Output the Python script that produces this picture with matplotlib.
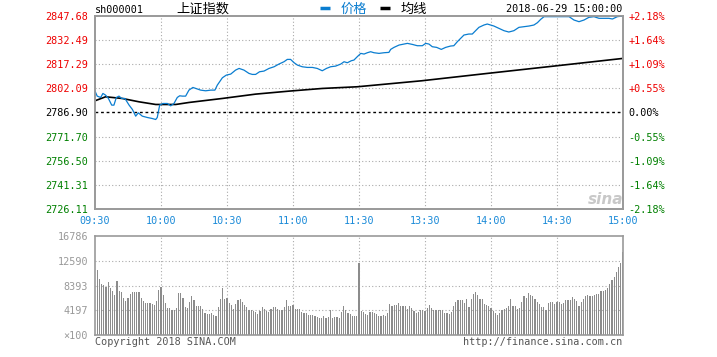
import numpy as np
import matplotlib
matplotlib.use('Agg')
import matplotlib.pyplot as plt
from matplotlib.lines import Line2D

W, H = 717, 357
MONO = 'DejaVu Sans Mono'
CJK = ['Noto Sans CJK SC', 'DejaVu Sans']

# ---- data ----
prev_close = 2786.90
price_ticks = [2726.11, 2741.31, 2756.50, 2771.70, 2786.90,
               2802.09, 2817.29, 2832.49, 2847.68]
pct_labels = ['-2.18%', '-1.64%', '-1.09%', '-0.55%', '0.00%',
              '+0.55%', '+1.09%', '+1.64%', '+2.18%']
time_labels = ['09:30', '10:00', '10:30', '11:00', '11:30',
               '13:30', '14:00', '14:30', '15:00']
vol_ticks = [0, 4197, 8393, 12590, 16786]
vol_labels = ['×100', '4197', '8393', '12590', '16786']

# price line: minute index (0..240) and value
price_min = [0, 1, 2.6, 3.6, 4.8, 6.1, 7.6, 8.6, 9.7, 10.9, 12.1, 13.6, 15.5, 17, 18.5,
             19.7, 21.5, 23.8, 26, 27.6, 28.3, 29.4, 30.9, 32.9, 34.4, 35.9, 37.4, 38.5,
             39.7, 41.2, 42.7, 44.5, 45.8, 48, 50.3, 52.6, 54.5, 55.6, 57.9, 59.7, 61.7,
             63.9, 65.5, 67.7, 70, 71.5, 73, 74.8, 76.8, 79.1, 81.4, 83.6, 85.9, 87.4,
             88.9, 90.5, 92, 94.2, 96.5, 98.8, 101, 103.3, 105.2, 107.1, 109.4, 111.7,
             113.2, 114.7, 116.5, 117.7, 119.2,
             120.8, 122.3, 123.8, 125.3, 126.8, 129.1, 131.4, 133.6, 134.4, 135.9, 138.2,
             140.5, 142, 144.2, 146.5, 148.8, 150.3, 151.8, 153.3, 155.3, 157.4, 159.4,
             161.6, 163.1, 164.7, 166.2, 167.7, 169.9, 171.5, 173, 174.5, 176.8, 178.3,
             179.8, 181.3, 183.6, 185.9, 188.1, 190.4, 192.7, 195, 197.3, 199.5, 201.1,
             202.6, 204.1, 205.6, 208.6, 211.6, 215.5, 217.7, 220, 222.3, 224.5, 226.8,
             229.1, 231.4, 233.6, 235.2, 237.4, 240]
price_val = [2800.36, 2797.21, 2796.37, 2798.89, 2797.84, 2795.74, 2791.53, 2791.53,
             2796.37, 2797.21, 2795.74, 2795.74, 2791.53, 2788.80, 2784.59, 2786.69,
             2784.59, 2783.75, 2783.12, 2782.49, 2783.75, 2791.53, 2792.58, 2792.58,
             2791.11, 2792.58, 2796.37, 2797.42, 2797.21, 2797.21, 2800.99, 2802.68,
             2802.04, 2800.99, 2800.57, 2800.99, 2800.99, 2804.15, 2808.77, 2810.46,
             2811.09, 2813.61, 2814.66, 2813.61, 2811.51, 2810.88, 2810.88, 2812.56,
             2812.98, 2814.66, 2815.71, 2817.40, 2818.87, 2820.34, 2820.34, 2818.24,
             2816.77, 2815.71, 2815.29, 2815.29, 2814.66, 2813.19, 2814.66, 2815.71,
             2816.13, 2817.40, 2818.87, 2818.24, 2819.50, 2819.92, 2822.02,
             2824.13, 2823.71, 2824.55, 2825.18, 2824.55, 2824.13, 2824.55, 2824.76,
             2826.65, 2827.91, 2829.38, 2830.01, 2830.44, 2829.80, 2828.96, 2828.96,
             2830.44, 2830.01, 2828.33, 2827.91, 2826.65, 2827.91, 2828.75, 2828.96,
             2831.49, 2833.59, 2835.69, 2836.32, 2836.32, 2838.43, 2840.53, 2842.00,
             2842.63, 2842.00, 2841.37, 2839.90, 2838.43, 2837.59, 2838.43, 2840.53,
             2840.95, 2841.37, 2842.00, 2843.47, 2845.58, 2847.26, 2847.26, 2847.26,
             2847.26, 2847.26, 2845.16, 2844.10, 2845.16, 2846.84, 2847.26, 2846.21,
             2846.21, 2846.21, 2845.79, 2847.26, 2847.68]

# average price line
avg_min = [0, 4.8, 12.4, 20, 27.6, 36.7, 42.7, 57.9, 73, 88.2, 103.3, 119.2,
           148.5, 178.3, 208.6, 240]
avg_val = [2794.26, 2796.79, 2795.74, 2793.63, 2791.95, 2791.95, 2793.21, 2795.74,
           2798.47, 2800.36, 2802.04, 2803.10, 2806.88, 2811.51, 2816.13, 2820.97]

# volume per minute (x100), morning minutes 1..120, afternoon 121..240
vol_am = [10976, 9520, 8568, 8456, 8176, 9016, 8008, 7448, 6776, 9128,
          7448, 7336, 6328, 5768, 6328, 7000, 7336, 7336, 7280, 7280,
          6328, 5768, 5376, 5488, 5488, 5320, 5096, 5768, 7560, 8120,
          6776, 5488, 4648, 4648, 4256, 4256, 4648, 7056, 7168, 6328,
          4760, 4536, 5656, 6608, 5936, 4928, 4928, 4928, 4368, 3808,
          3640, 3640, 3808, 3416, 3248, 4760, 6048, 8008, 6048, 6328,
          5488, 5096, 4368, 5208, 5880, 6048, 5656, 5096, 4760, 4256,
          4200, 4088, 3920, 3640, 4088, 4760, 4368, 4088, 3920, 4368,
          4760, 4760, 4480, 4256, 4256, 4760, 5936, 4928, 4928,
          5096, 4480, 4368, 4480, 3920, 3808, 3808, 3416, 3416, 3416,
          3192, 3080, 2856, 2856, 3192, 2856, 3024, 4200, 2856, 3080,
          3080, 2856, 3976, 4928, 4312, 3752, 3640, 3248, 3304,
          3248, 12208]
vol_pm = [4088, 3920, 3640, 3416, 3920, 3920, 3808, 3640, 3248, 3248,
          3416, 3248, 3808, 5208, 4928, 5096, 5096, 5376, 4928, 4928,
          4928, 4368, 4928, 4536, 4088, 3808, 3920, 4256, 4256, 4088,
          4648, 5096, 4648, 4200, 4200, 4200, 4200, 4312, 3808, 3752,
          3640, 3864, 4928, 5600, 5880, 5936, 5936, 5376, 6048, 4816,
          6048, 6888, 7280, 6720, 6048, 6048, 5208, 5096, 4872, 4648,
          4088, 3808, 3416, 3808, 4200, 4368, 4648, 4928, 6048, 4928,
          4928, 4368, 4536, 5656, 6608, 6328, 7168, 6776, 6608, 6048,
          5656, 5320, 4760, 4760, 4200, 5488, 5544, 5600, 5320, 5600,
          5656, 5208, 5488, 5936, 5936, 5936, 6440, 6048, 5768, 4928,
          5656, 6048, 6608, 6776, 6608, 6608, 6720, 6888, 7000, 7448,
          7448, 7616, 8008, 8680, 9408, 9800, 10696, 11480, 12208, 14000]

# ---- layout ----
fig = plt.figure(figsize=(W / 100, H / 100), dpi=100)
fig.patch.set_facecolor('white')


def frac(x0, y0, x1, y1):
    return [x0 / W, 1 - y1 / H, (x1 - x0) / W, (y1 - y0) / H]


ax = fig.add_axes(frac(95, 16, 623, 209))
axv = fig.add_axes(frac(95, 236, 623, 335))

grid_kw = dict(color='#aaaaaa', lw=0.8, ls=(0, (1, 2)), zorder=0)
spine_c = '#999999'
blue = '#0a7dd0'

# main price chart
ax.plot(price_min, price_val, color=blue, lw=0.9, zorder=3)
ax.plot(avg_min, avg_val, color='black', lw=1.2, zorder=2)
ax.set_xlim(0, 240)
ax.set_ylim(price_ticks[0], price_ticks[-1])
for t in price_ticks[1:-1]:
    if t == prev_close:
        ax.axhline(t, color='black', lw=1.0, ls=(0, (2, 2)), zorder=1)
    else:
        ax.axhline(t, **grid_kw)
for m in range(30, 240, 30):
    ax.axvline(m, **grid_kw)

ax.set_xticks(range(0, 241, 30))
ax.set_xticklabels(time_labels, fontsize=7.3, family=MONO, color='#1a8ad8')
ax.tick_params(axis='x', length=0, pad=5)
ax.set_yticks(price_ticks)
ax.set_yticklabels(['%.2f' % t for t in price_ticks], fontsize=7.3, family=MONO)
ax.tick_params(axis='y', length=0, pad=5)
for lbl, t in zip(ax.get_yticklabels(), price_ticks):
    lbl.set_color('black' if t == prev_close else ('#ee0000' if t > prev_close else '#008000'))

axr = ax.twinx()
axr.set_ylim(price_ticks[0], price_ticks[-1])
axr.set_yticks(price_ticks)
axr.set_yticklabels(pct_labels, fontsize=7.3, family=MONO)
axr.tick_params(axis='y', length=0, pad=4)
for lbl, t in zip(axr.get_yticklabels(), price_ticks):
    lbl.set_color('black' if t == prev_close else ('#ee0000' if t > prev_close else '#008000'))

for a in (ax, axr, axv):
    for s in a.spines.values():
        s.set_color(spine_c)
        s.set_linewidth(1.2)

# volume chart
bar_c = '#8c8c8c'
axv.bar(np.arange(1, len(vol_am) + 1), vol_am, width=0.55, color=bar_c, lw=0, zorder=2)
axv.bar(np.arange(241 - len(vol_pm), 241), vol_pm, width=0.55, color=bar_c, lw=0, zorder=2)
axv.set_xlim(0, 240)
axv.set_ylim(0, vol_ticks[-1])
for t in vol_ticks[1:-1]:
    axv.axhline(t, **grid_kw)
for m in range(30, 240, 30):
    axv.axvline(m, **grid_kw)
axv.set_xticks([])
axv.set_yticks(vol_ticks)
axv.set_yticklabels(vol_labels, fontsize=7.3, family=MONO, color='#999999')
axv.tick_params(axis='y', length=0, pad=5)

# header
fig.text(95 / W, 1 - 10 / H, 'sh000001', fontsize=7.3, family=MONO, va='center')
fig.text(176 / W, 1 - 9 / H, '上证指数', fontsize=9.5, family=CJK, va='center')
fig.add_artist(Line2D([320 / W, 330 / W], [1 - 8 / H] * 2, color=blue, lw=2.5,
                      solid_capstyle='butt'))
fig.text(341 / W, 1 - 9 / H, '价格', fontsize=9.5, family=CJK, color=blue, va='center')
fig.add_artist(Line2D([380 / W, 390 / W], [1 - 8 / H] * 2, color='black', lw=2.5,
                      solid_capstyle='butt'))
fig.text(401 / W, 1 - 9 / H, '均线', fontsize=9.5, family=CJK, va='center')
fig.text(622 / W, 1 - 9 / H, '2018-06-29 15:00:00', fontsize=7.3, family=MONO,
         va='center', ha='right')

# watermark
fig.text(606 / W, 1 - 200 / H, 'sina', fontsize=11, family='DejaVu Sans', weight='bold',
         style='italic', color='#c8c8c8', ha='center', va='center')

# footer
fig.text(95 / W, 1 - 342 / H, 'Copyright 2018 SINA.COM', fontsize=7.3, family=MONO,
         color='#555555', va='center')
fig.text(622 / W, 1 - 342 / H, 'http://finance.sina.com.cn', fontsize=7.3, family=MONO,
         color='#555555', va='center', ha='right')

fig.savefig('out.png', dpi=100, facecolor='white')
